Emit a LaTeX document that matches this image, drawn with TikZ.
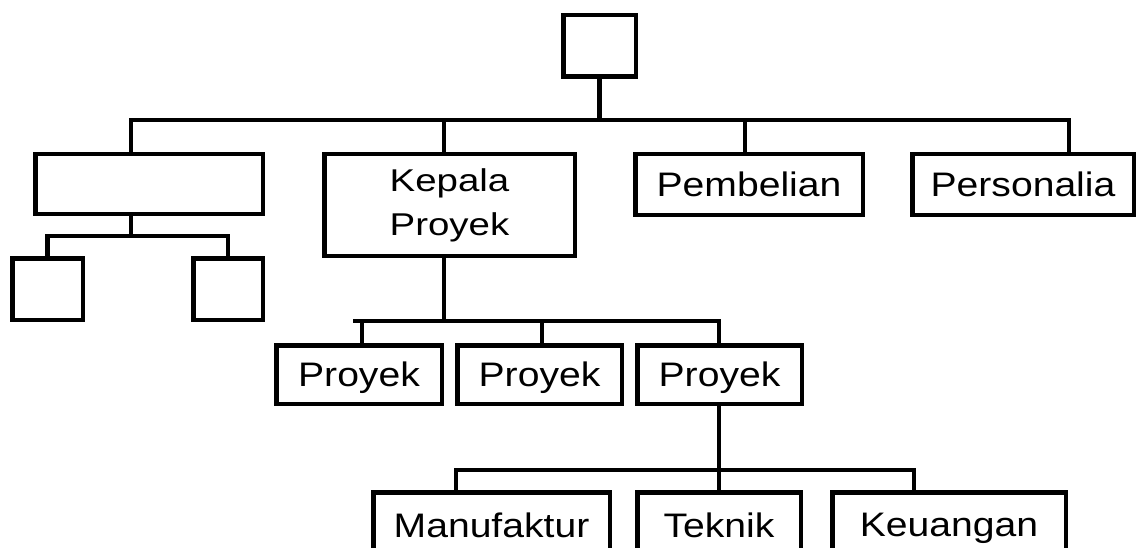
\documentclass[tikz,border=0pt]{standalone}
\usepackage{fontspec}
\setmainfont[FakeStretch=1.15]{Liberation Sans}
\newfontfamily\kepfont[FakeStretch=1.22]{Liberation Sans}
\begin{document}
\begin{tikzpicture}[x=1pt,y=-1pt,
  box/.style={draw=black, line width=4.5pt, inner sep=0pt, text depth=0pt,
    font=\fontsize{34}{40}\selectfont},
  link/.style={draw=black, line width=4.5pt}]
\useasboundingbox (0,0) rectangle (1137,548);
\clip (0,0) rectangle (1137,548);
\fill[white] (0,0) rectangle (1137,548);

% top level
\node[box, minimum width=72.5pt, minimum height=61.5pt] (top) at (599.5,46) {};

% second level
\node[box, minimum width=227.5pt, minimum height=59.5pt] (A) at (149,184) {};
\node[box, minimum width=250.5pt, minimum height=101.5pt, align=center,
      text depth=, font=\kepfont\fontsize{31.5}{44}\selectfont] (K) at (449.5,205) {Kepala\\Proyek};
\node[box, minimum width=227.5pt, minimum height=60.5pt] (P) at (749,184.5) {Pembelian};
\node[box, minimum width=221.5pt, minimum height=60.5pt] (R) at (1023,184.5) {Personalia};

% under the empty box
\node[box, minimum width=70.5pt, minimum height=61.5pt] (s1) at (47.5,289) {};
\node[box, minimum width=69.5pt, minimum height=61.5pt] (s2) at (228,289) {};

% projects
\node[box, minimum width=165.5pt, minimum height=58.5pt] (p1) at (359,374.5) {Proyek};
\node[box, minimum width=164.5pt, minimum height=58.5pt] (p2) at (539.5,374.5) {Proyek};
\node[box, minimum width=164.5pt, minimum height=58.5pt] (p3) at (719.5,374.5) {Proyek};

% functions of the third project
\node[box, minimum width=236.5pt, minimum height=65.5pt] (M) at (491.5,525) {Manufaktur};
\node[box, minimum width=163.5pt, minimum height=65.5pt] (T) at (719,525) {Teknik};
\node[box, minimum width=233.5pt, minimum height=65.5pt] (U) at (949,525) {Keuangan};

% junction points
\coordinate (jA) at (131,120);
\coordinate (jK) at (444,120);
\coordinate (jP) at (745,120);
\coordinate (jR) at (1069,120);
\coordinate (sb) at (131,236);
\coordinate (b2l) at (353,321);
\coordinate (b2r) at (721,321);
\coordinate (j1) at (362,321);
\coordinate (j2) at (542,321);
\coordinate (j3) at (719,321);
\coordinate (jM) at (456,470);
\coordinate (jT) at (719,470);
\coordinate (jU) at (914,470);

% first bar
\path[link] (top.south) -- (top.south |- jK);
\path[link] (jA |- A.north) -- (jA) -- (jR) -- (jR |- R.north);
\path[link] (jK) -- (jK |- K.north);
\path[link] (jP) -- (jP |- P.north);

% under the empty box
\path[link] (jA |- A.south) -- (sb);
\path[link] (s1.north) |- (sb -| s2.north) -- (s2.north);

% project bar
\path[link] (jK |- K.south) -- (jK |- b2l);
\path[link] (b2l) -- (b2r);
\path[link] (j1) -- (j1 |- p1.north);
\path[link] (j2) -- (j2 |- p2.north);
\path[link] (j3) -- (j3 |- p3.north);

% function bar
\path[link] (jT |- p3.south) -- (jT |- T.north);
\path[link] (jM |- M.north) -- (jM) -- (jU) -- (jU |- U.north);
\end{tikzpicture}
\end{document}
